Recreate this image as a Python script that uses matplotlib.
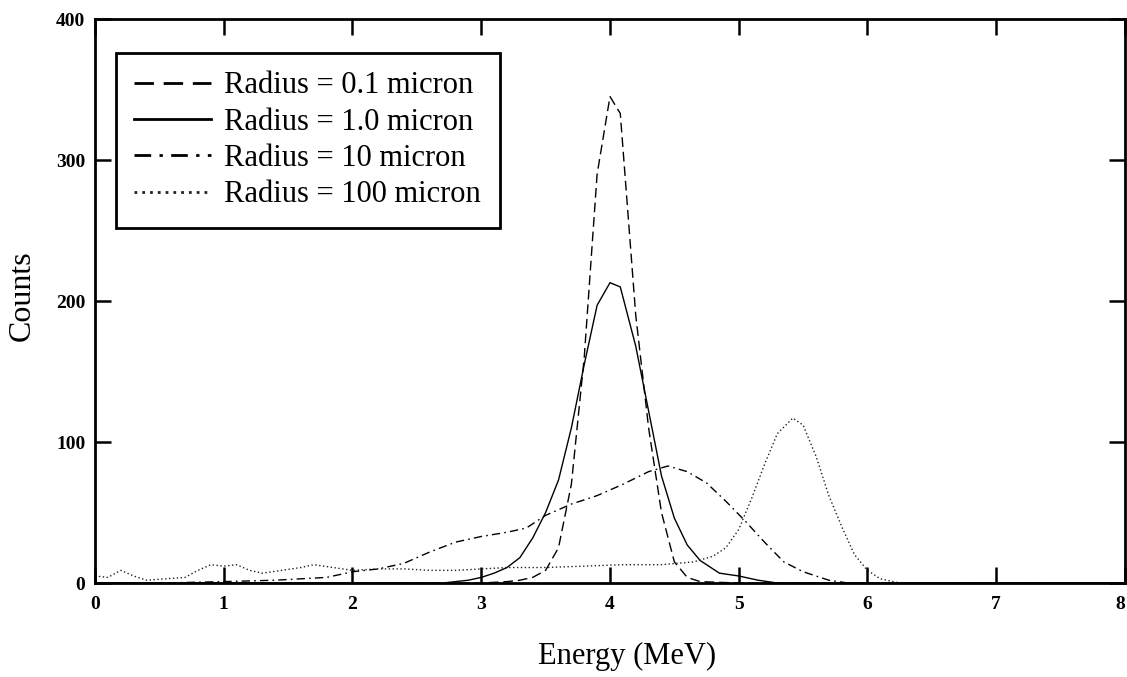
import matplotlib
matplotlib.use("Agg")
import matplotlib.pyplot as plt

# --- data ---
e_01 = [0.0, 3.0, 3.2, 3.3, 3.4, 3.5, 3.6, 3.7, 3.8, 3.9, 4.0, 4.08, 4.2, 4.3, 4.4, 4.5, 4.6, 4.7, 5.0, 8.0]
c_01 = [0, 0, 1, 2, 4, 9, 25, 70, 160, 290, 345, 333, 190, 110, 50, 15, 4, 1, 0, 0]

e_1 = [0.0, 2.7, 2.9, 3.0, 3.1, 3.2, 3.3, 3.4, 3.5, 3.6, 3.7, 3.8, 3.9, 4.0, 4.08, 4.2, 4.3, 4.4, 4.5,
       4.6, 4.7, 4.85, 5.0, 5.15, 5.3, 8.0]
c_1 = [0, 0, 2, 4, 7, 11, 18, 32, 50, 73, 110, 155, 197, 213, 210, 168, 122, 76, 46,
       27, 16, 7, 5, 2, 0, 0]

e_10 = [0.0, 0.5, 1.0, 1.4, 1.8, 2.0, 2.2, 2.4, 2.6, 2.8, 3.0, 3.2, 3.35, 3.5, 3.7, 3.9, 4.1, 4.3,
        4.45, 4.6, 4.75, 4.9, 5.05, 5.2, 5.35, 5.5, 5.7, 5.85, 8.0]
c_10 = [0, 0, 1, 2, 4, 8, 10, 14, 22, 29, 33, 36, 39, 48, 56, 62, 70, 79,
        83, 79, 71, 58, 44, 29, 15, 8, 2, 0, 0]

e_100 = [0.0, 0.1, 0.2, 0.3, 0.4, 0.55, 0.7, 0.8, 0.9, 1.0, 1.1, 1.2, 1.3, 1.45, 1.6, 1.7, 1.85, 2.0,
         2.2, 2.4, 2.6, 2.8, 3.0, 3.2, 3.5, 3.8, 4.1, 4.4, 4.65, 4.8, 4.9, 5.0, 5.1, 5.2, 5.3,
         5.42, 5.5, 5.6, 5.7, 5.8, 5.9, 6.0, 6.1, 6.25, 8.0]
c_100 = [5, 4, 9, 5, 2, 3, 4, 9, 13, 12, 13, 9, 7, 9, 11, 13, 11, 9,
         10, 10, 9, 9, 10, 11, 11, 12, 13, 13, 15, 19, 25, 38, 60, 84, 106,
         117, 112, 90, 62, 40, 20, 9, 3, 0, 0]

labels = ["Radius = 0.1 micron", "Radius = 1.0 micron", "Radius = 10 micron", "Radius = 100 micron"]
x_ticks = [0, 1, 2, 3, 4, 5, 6, 7, 8]
y_ticks = [0, 100, 200, 300, 400]

plt.rcParams['font.family'] = ['Liberation Serif', 'DejaVu Serif']

fig = plt.figure(figsize=(11.27, 6.77), dpi=100)
ax = fig.add_axes([0.0843, 0.1388, 0.9139, 0.8331])

lw = 1.0
l1, = ax.plot(e_01, c_01, color='black', lw=lw, linestyle=(0, (7, 3.5)), label=labels[0])
l2, = ax.plot(e_1, c_1, color='black', lw=lw, linestyle='-', label=labels[1])
l3, = ax.plot(e_10, c_10, color='black', lw=lw, linestyle=(0, (6, 3, 1.2, 3)), label=labels[2])
l4, = ax.plot(e_100, c_100, color='#222222', lw=lw, linestyle=(0, (1, 1.8)), label=labels[3])

ax.set_xlim(0, 8)
ax.set_ylim(0, 400)
ax.set_xticks(x_ticks)
ax.set_yticks(y_ticks)
ax.set_xticklabels([str(t) for t in x_ticks], fontweight='bold', fontsize=14)
ax.set_yticklabels([str(t) for t in y_ticks], fontweight='bold', fontsize=14)
xtl = ax.get_xticklabels()
xtl[-1].set_horizontalalignment('right')
ax.tick_params(direction='in', top=True, right=True, length=11.5, width=1.8, color='black')
ax.tick_params(axis='x', pad=9)
ax.tick_params(axis='y', pad=7)
for s in ax.spines.values():
    s.set_linewidth(2)
    s.set_color('black')

ax.set_xlabel("Energy (MeV)", fontsize=22)
ax.xaxis.set_label_coords(0.517, -0.104)
ax.set_ylabel("Counts", fontsize=23)
ax.yaxis.set_label_coords(-0.057, 0.51)

leg = ax.legend(handles=[l1, l2, l3, l4], loc='upper left', bbox_to_anchor=(0.0204, 0.9397),
                borderaxespad=0, fontsize=22, frameon=True, fancybox=False, edgecolor='black',
                framealpha=1, handlelength=2.5, handletextpad=0.45, labelspacing=0.24,
                borderpad=0.6)
leg.get_frame().set_linewidth(2)
for h in leg.legend_handles:
    h.set_linewidth(2)

fig.savefig("out.png", dpi=100)
